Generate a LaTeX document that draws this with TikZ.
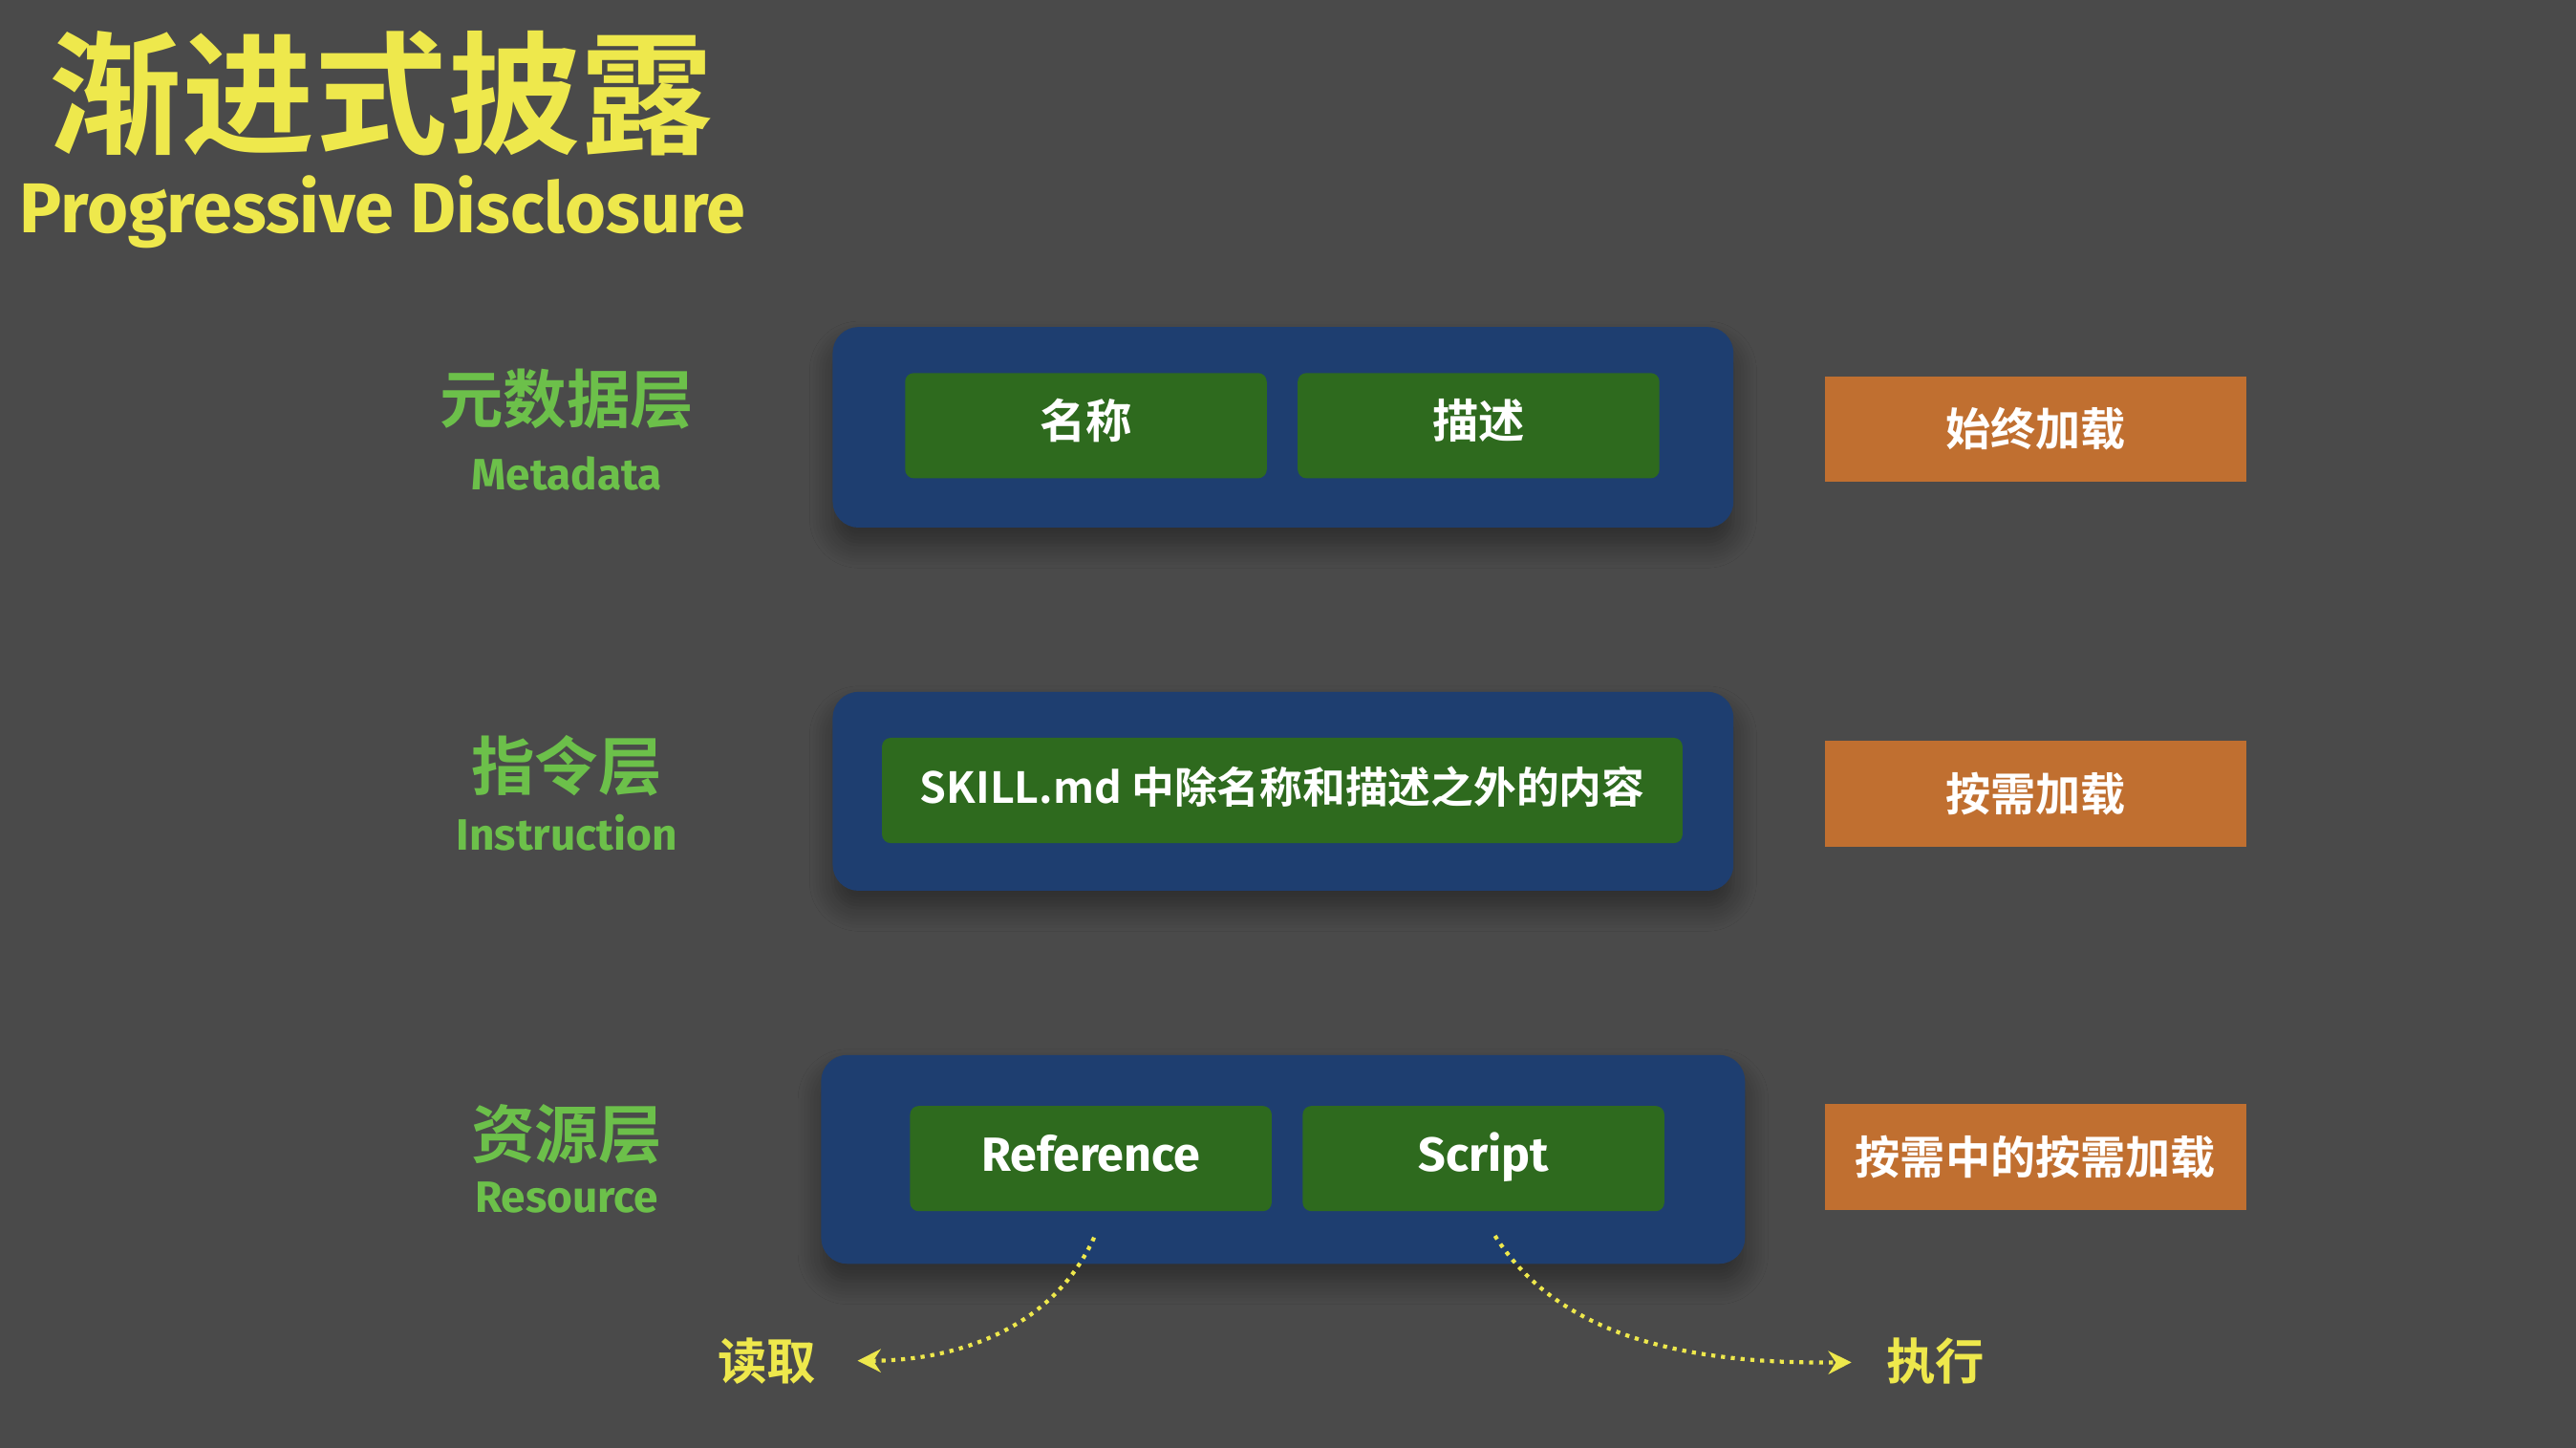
\documentclass[tikz,border=0pt]{standalone}
\usepackage{fontspec}
\setmainfont{Noto Sans CJK SC}[BoldFont={Noto Sans CJK SC Bold}]
\newfontfamily\latinf{Fira Sans}[BoldFont={Fira Sans Bold}]
\usetikzlibrary{shadows.blur,arrows.meta}
\definecolor{bg}{HTML}{4A4A4A}
\definecolor{ttl}{HTML}{EEE84C}
\definecolor{lgreen}{HTML}{6CC04A}
\definecolor{bluebox}{HTML}{1E3E70}
\definecolor{gbox}{HTML}{2E6A1E}
\definecolor{obox}{HTML}{C06F30}
\tikzset{
 layer/.style={draw=none,fill=bluebox,rounded corners=4.5pt,blur shadow={shadow blur steps=8,shadow xshift=0pt,shadow yshift=-3pt,shadow blur radius=4pt}},
 gb/.style={fill=gbox,rounded corners=1.5pt,text=white,font=\bfseries\fontsize{8}{9}\selectfont,inner sep=0,minimum height=0.64cm,text height=6pt,text depth=1.5pt},
 ob/.style={fill=obox,text=white,font=\bfseries\fontsize{7.8}{9}\selectfont,inner sep=0,minimum width=2.56cm,minimum height=0.64cm},
 cnlab/.style={text=lgreen,font=\bfseries\fontsize{11}{12}\selectfont},
 enlab/.style={text=lgreen,font=\latinf\bfseries\fontsize{7.6}{9}\selectfont},
 arr/.style={ttl,densely dotted,line width=0.7pt,-{Stealth[length=4pt,width=4pt]}},
 act/.style={text=ttl,font=\bfseries\fontsize{8.5}{10}\selectfont}
}
\begin{document}
\begin{tikzpicture}[x=0.01cm,y=-0.01cm]
\fill[bg] (0,0) rectangle (1568,881);
\useasboundingbox (0,0) rectangle (1568,881);
\node[text=ttl,font=\bfseries\fontsize{23}{26}\selectfont,anchor=center] (t1) at (232,57) {渐进式披露};
\node[text=ttl,font=\latinf\bfseries\fontsize{12.2}{14}\selectfont] (t2) at (233,129) {Progressive Disclosure};
% layers
\node[layer,minimum width=5.48cm,minimum height=1.22cm] (L1) at (781,260) {};
\node[layer,minimum width=5.48cm,minimum height=1.21cm] (L2) at (781,481.5) {};
\node[layer,minimum width=5.62cm,minimum height=1.27cm] (L3) at (781,705.5) {};
\node[gb,minimum width=2.2cm] (n1) at (661,259) {名称};
\node[gb,minimum width=2.2cm] (n2) at (900,259) {描述};
\node[gb,minimum width=4.87cm,font=\bfseries\fontsize{7.4}{9}\selectfont] (n3) at (780.5,481) {SKILL.md 中除名称和描述之外的内容};
\node[gb,minimum width=2.2cm,font=\latinf\bfseries\fontsize{8.3}{9}\selectfont] (n4) at (664,705) {Reference};
\node[gb,minimum width=2.2cm,font=\latinf\bfseries\fontsize{8.3}{9}\selectfont] (n5) at (903,705) {Script};
\node[ob] (o1) at (1239,261) {始终加载};
\node[ob] (o2) at (1239,483) {按需加载};
\node[ob] (o3) at (1239,704) {按需中的按需加载};
\node[cnlab] (c1) at (345,243) {元数据层};
\node[enlab] (e1) at (345,288) {Metadata};
\node[cnlab] (c2) at (345,466) {指令层};
\node[enlab] (e2) at (345,507) {Instruction};
\node[cnlab] (c3) at (345,690) {资源层};
\node[enlab] (e3) at (345,729) {Resource};
\node[act] (r) at (467,828) {读取};
\node[act] (x) at (1178,828) {执行};
\coordinate (a1) at (666,753);
\coordinate (b1) at (910,752);
\draw[arr] (a1) .. controls (640,810) and (580,828) .. (522,828);
\draw[arr] (b1) .. controls (950,815) and (1030,830) .. (1127,829);
\end{tikzpicture}
\end{document}
